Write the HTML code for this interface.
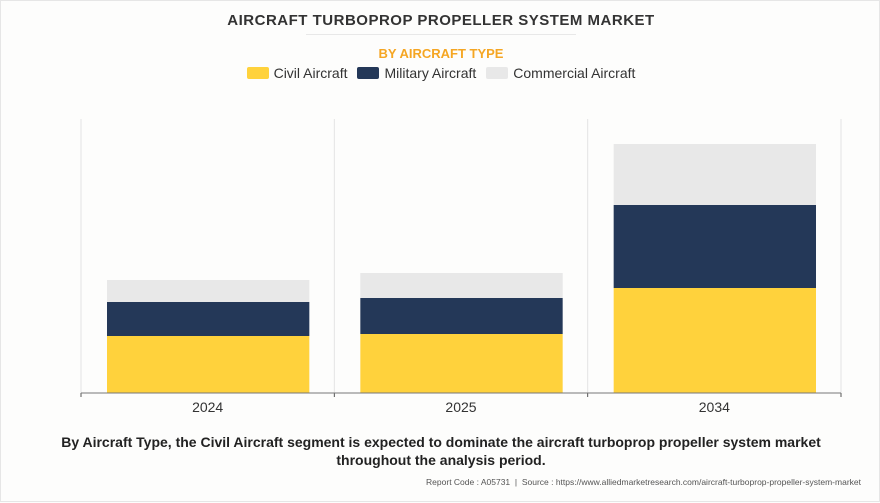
<!DOCTYPE html>
<html><head><meta charset="utf-8"><style>
html,body{margin:0;padding:0;}
body{width:880px;height:502px;background:#fdfdfc;font-family:"Liberation Sans",sans-serif;position:relative;overflow:hidden;border:1px solid #e6e6e6;box-sizing:border-box;}
.t{position:absolute;left:0;width:880px;text-align:center;}
</style></head><body>
<div class="t" style="top:11px;font-size:15px;font-weight:bold;color:#333;letter-spacing:0.5px;">AIRCRAFT TURBOPROP PROPELLER SYSTEM MARKET</div>
<div style="position:absolute;left:305px;top:33px;width:270px;height:1px;background:#e8e8e8;"></div>
<div class="t" style="top:45px;font-size:13px;font-weight:bold;color:#f5a623;">BY AIRCRAFT TYPE</div>
<div style="position:absolute;top:64px;left:0;width:880px;display:flex;justify-content:center;gap:10px;font-size:14px;color:#333;">
<span style="display:flex;align-items:center;gap:5px;"><i style="display:inline-block;width:22px;height:12px;background:#ffd23c;border-radius:2px"></i>Civil Aircraft</span>
<span style="display:flex;align-items:center;gap:5px;"><i style="display:inline-block;width:22px;height:12px;background:#243858;border-radius:2px"></i>Military Aircraft</span>
<span style="display:flex;align-items:center;gap:5px;"><i style="display:inline-block;width:22px;height:12px;background:#e8e8e8;border-radius:2px"></i>Commercial Aircraft</span>
</div>
<svg id="chart" width="880" height="502" style="position:absolute;left:0;top:0"></svg>
<div class="t" style="top:432px;font-size:14px;font-weight:bold;color:#222;line-height:18px;">By Aircraft Type, the Civil Aircraft segment is expected to dominate the aircraft turboprop propeller system market<br>throughout the analysis period.</div>
<div style="position:absolute;right:18px;top:476px;font-size:8.5px;color:#555;">Report Code : A05731 &nbsp;|&nbsp; Source : https://www.alliedmarketresearch.com/aircraft-turboprop-propeller-system-market</div>
<script>
const categories=["2024","2025","2034"];
const civil=[57,59,105];
const military=[34,36,83];
const commercial=[22,25,61];
const NS="http://www.w3.org/2000/svg";
const svg=document.getElementById("chart");
const x0=80,x1=840,base=392,top0=118,yMax=274;
const band=(x1-x0)/categories.length;
const y=v=>base-(v/yMax)*(base-top0);
function mk(t,a){const e=document.createElementNS(NS,t);for(const k in a)e.setAttribute(k,a[k]);svg.appendChild(e);return e;}
for(let i=0;i<=categories.length;i++){
const g=mk("line",{x1:x0+i*band,x2:x0+i*band,y1:top0,y2:base,stroke:"#e4e4e4"});


const t=mk("line",{x1:x0+i*band,x2:x0+i*band,y1:base,y2:base+4,stroke:"#555"});


}
const series=[[civil,"#ffd23c","civil"],[military,"#243858","military"],[commercial,"#e8e8e8","commercial"]];
categories.forEach((c,i)=>{
let acc=0;const bx=x0+i*band+26,bw=band-51;
series.forEach(([arr,col,n])=>{
const r=mk("rect",{x:bx,y:y(acc+arr[i]),width:bw,height:y(acc)-y(acc+arr[i]),fill:col});


acc+=arr[i];
});
const l=mk("text",{x:x0+i*band+band/2,y:base+19,"text-anchor":"middle","font-size":"14",fill:"#333","font-family":"Liberation Sans, sans-serif"});
l.textContent=c;


});
const ax=mk("line",{x1:x0,x2:x1,y1:base,y2:base,stroke:"#777"});


</script>
</body></html>
